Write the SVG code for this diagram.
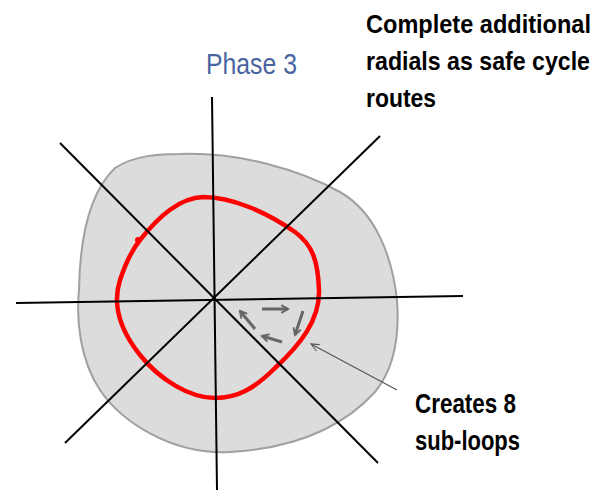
<svg xmlns="http://www.w3.org/2000/svg" width="609" height="491" viewBox="0 0 609 491">
<style>
.area{fill:#dcdcdc;stroke:#a0a0a0;stroke-width:2}
.loop{fill:none;stroke:#ff0000;stroke-width:4.5;stroke-linejoin:round}
.radial{stroke:#000;stroke-width:2;fill:none}
.sub{stroke:#666;stroke-width:3;fill:none;marker-end:url(#chev)}
.lead{stroke:#555;stroke-width:1.2;fill:none;marker-end:url(#open)}
.lbl{font-family:"Liberation Sans",Arial,sans-serif;font-weight:bold;font-size:27px;fill:#000}
.lbl2{font-family:"Liberation Sans",Arial,sans-serif;font-weight:bold;font-size:25px;fill:#000}
.title{font-family:"Liberation Sans",Arial,sans-serif;font-size:29px;fill:#4a64a0}
</style>
<defs>
<marker id="chev" viewBox="0 0 10 10" refX="8" refY="5" markerWidth="3.2" markerHeight="3.2" orient="auto" markerUnits="strokeWidth">
<path d="M1,1 L8,5 L1,9" fill="none" stroke="#666" stroke-width="2"/>
</marker>
<marker id="open" viewBox="0 0 10 10" refX="9" refY="5" markerWidth="9" markerHeight="9" orient="auto" markerUnits="userSpaceOnUse">
<path d="M0,1 L9,5 L0,9" fill="none" stroke="#555" stroke-width="1.2"/>
</marker>
</defs>
<g id="area">
<path class="area" d="M 180,154 C 240,152 300,170 340,192 C 375,212 392,255 397,300 C 400,340 393,370 375,392 C 345,425 300,448 230,452 C 170,455 120,420 100,390 C 80,360 76,320 79,290 C 80,230 92,190 115,168 C 135,155 160,154 180,154 Z"/>
</g>
<g id="loop">
<path class="loop" d="M 203,197 C 232,197 266,212 295,232 C 313,245 318,262 319,290 C 320,320 300,345 275,368 C 255,388 238,398 215,398 C 190,398 160,380 140,355 C 120,330 112,305 120,280 C 126,262 132,250 140,240 C 160,215 180,198 203,197 Z"/>
<circle cx="138" cy="240" r="3" fill="#ff0000"/>
</g>
<g id="radials">
<line class="radial" x1="212" y1="97" x2="217" y2="490"/>
<line class="radial" x1="16" y1="303" x2="463" y2="296"/>
<line class="radial" x1="60" y1="143" x2="378" y2="463"/>
<line class="radial" x1="380" y1="136" x2="65" y2="443"/>
</g>
<g id="connectors">
<line class="sub" x1="262" y1="309" x2="288" y2="309"/>
<line class="sub" x1="303" y1="311" x2="295" y2="335"/>
<line class="sub" x1="282" y1="342" x2="262" y2="336"/>
<line class="sub" x1="255" y1="329" x2="240" y2="311"/>
<line class="lead" x1="397" y1="390" x2="311" y2="344"/>
</g>
<g id="title">
<text class="title" x="206" y="74" textLength="91" lengthAdjust="spacingAndGlyphs">Phase 3</text>
</g>
<g id="note-top">
<text class="lbl2" x="366" y="33" textLength="225" lengthAdjust="spacingAndGlyphs">Complete additional</text>
<text class="lbl2" x="366" y="70" textLength="224" lengthAdjust="spacingAndGlyphs">radials as safe cycle</text>
<text class="lbl2" x="366" y="107" textLength="70" lengthAdjust="spacingAndGlyphs">routes</text>
</g>
<g id="note-bottom">
<text class="lbl" x="415" y="413" textLength="101" lengthAdjust="spacingAndGlyphs">Creates 8</text>
<text class="lbl" x="415" y="450" textLength="105" lengthAdjust="spacingAndGlyphs">sub-loops</text>
</g>
</svg>
